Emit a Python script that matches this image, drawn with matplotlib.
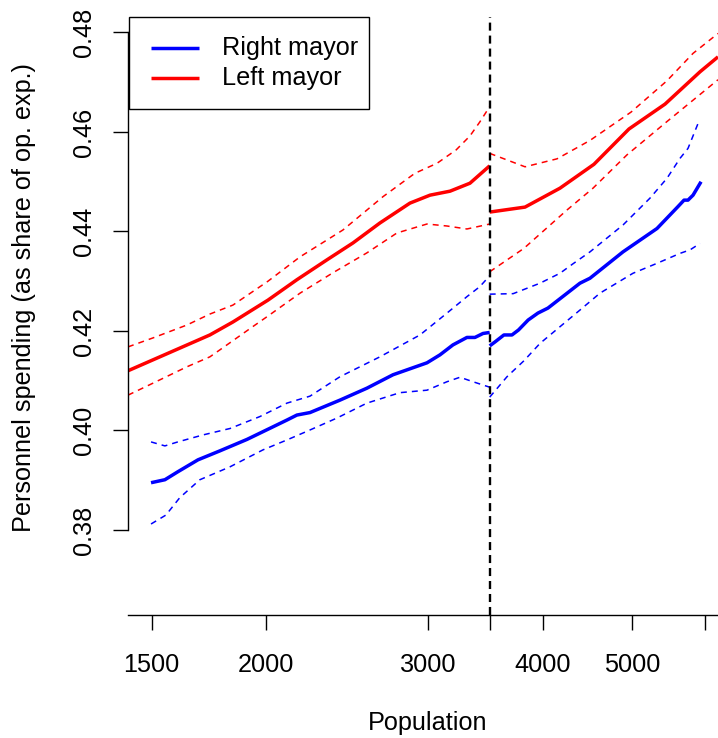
import numpy as np
import matplotlib
matplotlib.use("Agg")
import matplotlib.pyplot as plt
from matplotlib.patches import Rectangle
from matplotlib.lines import Line2D

plt.rcParams['font.family'] = ['Liberation Sans', 'DejaVu Sans']

cutoff = 3500

# ---- Left mayor (red) ----
left_fit_pop_lo = [1414, 1736, 1839, 2008, 2159, 2328, 2485, 2658, 2866, 3014, 3169, 3331, 3500]
left_fit_lo = [0.4120, 0.4192, 0.4218, 0.4262, 0.4303, 0.4343, 0.4377, 0.4417, 0.4457, 0.4473, 0.4481, 0.4497, 0.4532]
left_fit_pop_hi = [3500, 3824, 4174, 4545, 4962, 5431, 5929, 6202]
left_fit_hi = [0.4439, 0.4449, 0.4487, 0.4535, 0.4606, 0.4656, 0.4721, 0.4751]

left_up_pop_lo = [1414, 1505, 1639, 1736, 1839, 2008, 2176, 2423, 2679, 2902, 3067, 3218, 3331, 3414, 3500]
left_up_lo = [0.4168, 0.4186, 0.4212, 0.4234, 0.4252, 0.4300, 0.4349, 0.4403, 0.4470, 0.4517, 0.4537, 0.4564, 0.4592, 0.4620, 0.4651]
left_up_pop_hi = [3500, 3824, 4143, 4500, 4988, 5458, 5826, 6202]
left_up_hi = [0.4557, 0.4530, 0.4546, 0.4583, 0.4640, 0.4703, 0.4758, 0.4798]

left_dn_pop_lo = [1414, 1505, 1639, 1736, 1780, 1934, 2008, 2176, 2363, 2573, 2774, 2991, 3145, 3306, 3500]
left_dn_lo = [0.4071, 0.4095, 0.4128, 0.4148, 0.4162, 0.4209, 0.4230, 0.4276, 0.4317, 0.4357, 0.4397, 0.4415, 0.4411, 0.4405, 0.4415]
left_dn_pop_hi = [3500, 3813, 4247, 4534, 4937, 5458, 6202]
left_dn_hi = [0.4319, 0.4366, 0.4443, 0.4487, 0.4554, 0.4621, 0.4705]

# ---- Right mayor (blue) ----
right_fit_pop_lo = [1498, 1551, 1602, 1685, 1780, 1905, 2016, 2106, 2159, 2231, 2405, 2573, 2747, 2991,
                    3090, 3192, 3306, 3373, 3442, 3500]
right_fit_lo = [0.3895, 0.3901, 0.3917, 0.3941, 0.3959, 0.3982, 0.4004, 0.4021, 0.4031, 0.4036, 0.4061,
                0.4085, 0.4112, 0.4136, 0.4152, 0.4172, 0.4187, 0.4187, 0.4195, 0.4197]
right_fit_pop_hi = [3500, 3547, 3627, 3701, 3762, 3854, 3950, 4050, 4388, 4500, 4888, 5323, 5610, 5696,
                    5753, 5826, 5944]
right_fit_hi = [0.4170, 0.4178, 0.4192, 0.4192, 0.4202, 0.4222, 0.4236, 0.4246, 0.4296, 0.4306, 0.4359,
                0.4406, 0.4450, 0.4463, 0.4463, 0.4473, 0.4500]

right_up_pop_lo = [1498, 1551, 1602, 1706, 1826, 1968, 2106, 2231, 2405, 2658, 2939, 3145, 3306, 3414, 3500]
right_up_lo = [0.3977, 0.3969, 0.3977, 0.3991, 0.4004, 0.4028, 0.4055, 0.4069, 0.4108, 0.4148, 0.4192,
               0.4236, 0.4269, 0.4289, 0.4311]
right_up_pop_hi = [3500, 3712, 3970, 4174, 4312, 4500, 4888, 5230, 5458, 5639, 5753, 5899]
right_up_hi = [0.4274, 0.4275, 0.4296, 0.4316, 0.4335, 0.4359, 0.4413, 0.4467, 0.4507, 0.4547, 0.4567, 0.4617]

right_dn_pop_lo = [1498, 1555, 1610, 1693, 1826, 1983, 2106, 2231, 2387, 2573, 2795, 2991, 3145, 3249,
                   3356, 3500]
right_dn_lo = [0.3812, 0.3830, 0.3865, 0.3901, 0.3927, 0.3961, 0.3981, 0.4001, 0.4025, 0.4055, 0.4076,
               0.4081, 0.4098, 0.4107, 0.4098, 0.4087]
right_dn_pop_hi = [3500, 3655, 3813, 3970, 4388, 4614, 5012, 5323, 5639, 5782, 5929]
right_dn_hi = [0.4067, 0.4108, 0.4140, 0.4175, 0.4242, 0.4276, 0.4316, 0.4336, 0.4356, 0.4363, 0.4376]

x_ticks = [1500, 2000, 3000, 3500, 4000, 5000, 6000]
x_tick_labels = ["1500", "2000", "3000", "", "4000", "5000", ""]
y_ticks = [0.38, 0.40, 0.42, 0.44, 0.46, 0.48]
y_tick_labels = ["0.38", "0.40", "0.42", "0.44", "0.46", "0.48"]
legend_labels = ["Right mayor", "Left mayor"]

W, H = 718, 738
fig = plt.figure(figsize=(W / 100, H / 100), dpi=100)
L, R, T, B = 128, 718, 17, 615
ax = fig.add_axes([L / W, 1 - B / H, (R - L) / W, (B - T) / H])
ax.set_xscale('log')
ax.set_xlim(1414, 6202)
ax.set_ylim(0.36291, 0.48311)

fs = 18.2
main_lw = 2.5
ci_lw = 1.1
ci_dash = (3.9, 3.3)

for xs, ys in [(left_fit_pop_lo, left_fit_lo), (left_fit_pop_hi, left_fit_hi)]:
    ax.plot(xs, ys, color='red', lw=main_lw, solid_capstyle='butt')
for xs, ys in [(left_up_pop_lo, left_up_lo), (left_up_pop_hi, left_up_hi),
               (left_dn_pop_lo, left_dn_lo), (left_dn_pop_hi, left_dn_hi)]:
    ax.plot(xs, ys, color='red', lw=ci_lw, dashes=ci_dash)
for xs, ys in [(right_fit_pop_lo, right_fit_lo), (right_fit_pop_hi, right_fit_hi)]:
    ax.plot(xs, ys, color='blue', lw=main_lw, solid_capstyle='butt')
for xs, ys in [(right_up_pop_lo, right_up_lo), (right_up_pop_hi, right_up_hi),
               (right_dn_pop_lo, right_dn_lo), (right_dn_pop_hi, right_dn_hi)]:
    ax.plot(xs, ys, color='blue', lw=ci_lw, dashes=ci_dash)

ax.axvline(cutoff, color='black', lw=1.7, dashes=(3.4, 2.1))

# R-style axes
for s in ['top', 'right']:
    ax.spines[s].set_visible(False)
ax.spines['left'].set_bounds(0.38, 0.48)
ax.spines['left'].set_linewidth(1.0)
ax.spines['bottom'].set_linewidth(1.0)

ax.set_xticks(x_ticks)
ax.set_xticklabels(x_tick_labels, fontsize=fs)
ax.xaxis.set_minor_locator(matplotlib.ticker.NullLocator())
ax.set_yticks(y_ticks)
ax.set_yticklabels(y_tick_labels, fontsize=fs, rotation=90, va='center', ha='right')
ax.tick_params(axis='both', direction='out', length=10.8, width=1.0, color='black')
ax.tick_params(axis='x', pad=16.5)
ax.tick_params(axis='y', pad=12.5)

fig.text(428 / W, 1 - 723 / H, "Population", ha='center', va='center', fontsize=fs)
fig.text(24 / W, 1 - 298 / H, "Personnel spending (as share of op. exp.)", ha='center', va='center',
         rotation=90, fontsize=fs)

# Legend box (R style)
px2fig = lambda x, y: (x / W, 1 - y / H)
x0, y0 = px2fig(128.5, 109)
x1, y1 = px2fig(369, 16.7)
fig.patches.append(Rectangle((x0, y0), x1 - x0, y1 - y0, transform=fig.transFigure,
                             facecolor='white', edgecolor='black', lw=1.0, zorder=5))
for i, (lab, col) in enumerate(zip(legend_labels, ['blue', 'red'])):
    yy = 47.7 + i * 30.6
    xa, ya = px2fig(150.7, yy)
    xb, _ = px2fig(199, yy)
    fig.lines.append(Line2D([xa, xb], [ya, ya], transform=fig.transFigure, color=col,
                            lw=main_lw, zorder=6, solid_capstyle='butt'))
    xt, _ = px2fig(221.7, yy)
    fig.text(xt, ya, lab, ha='left', va='center', fontsize=fs, zorder=7)

fig.savefig("out.png", dpi=100)
